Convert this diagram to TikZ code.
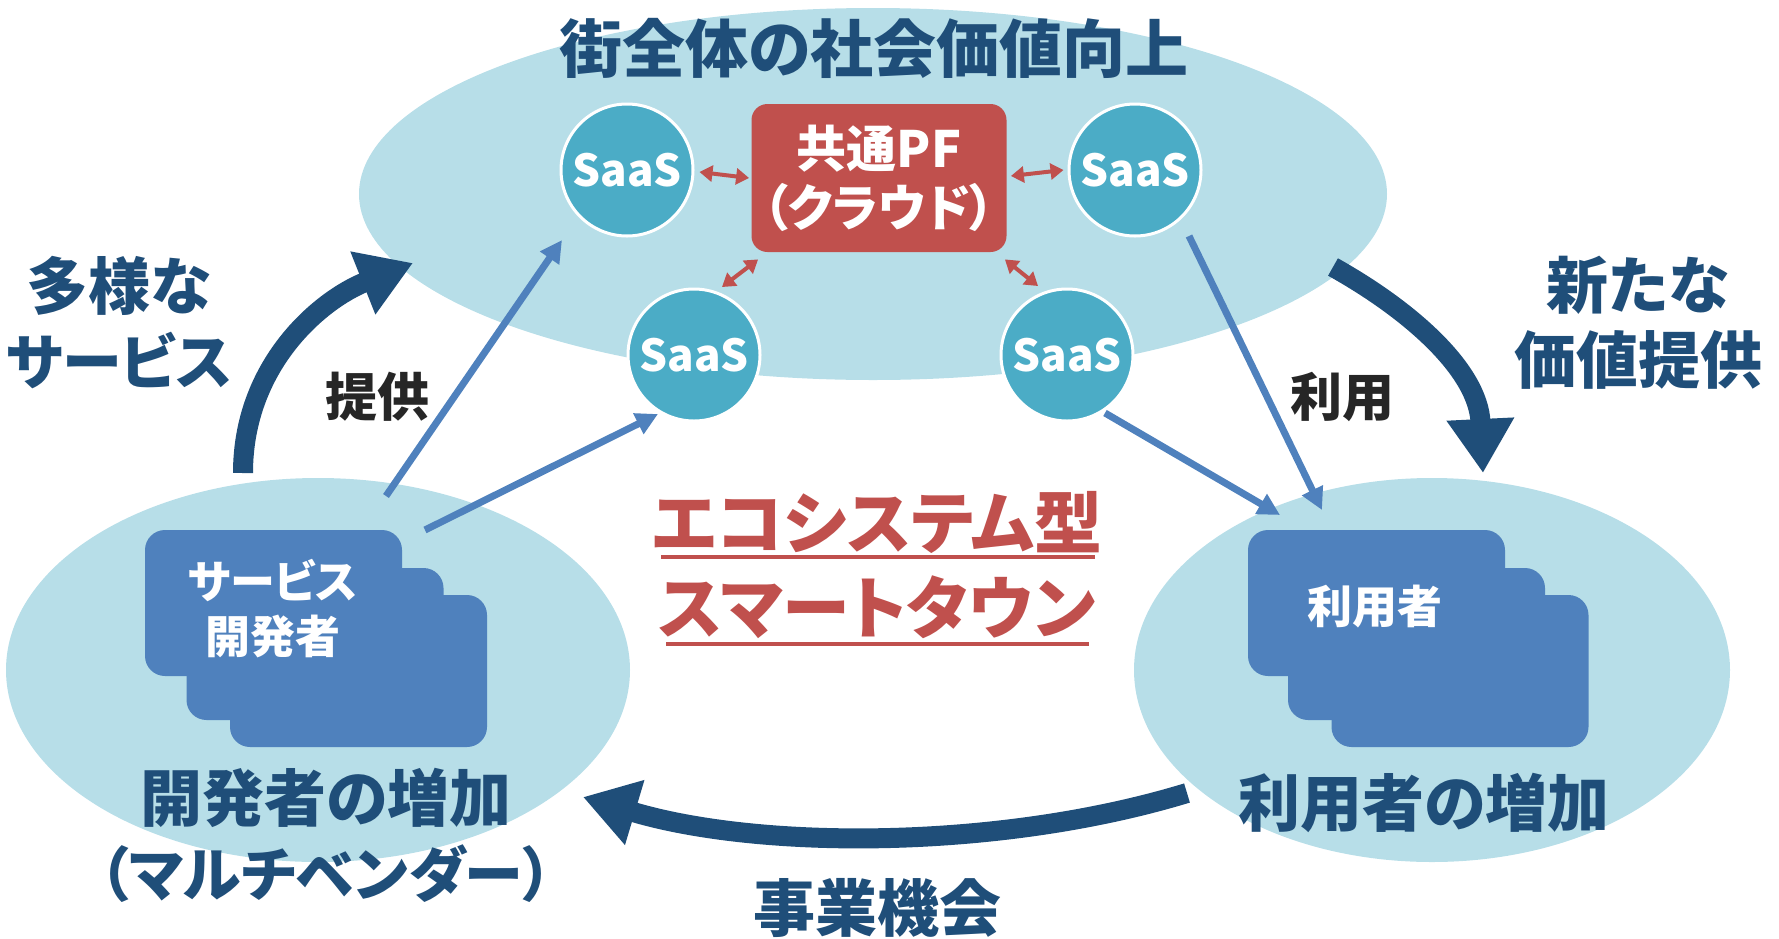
\documentclass[tikz,border=0pt]{standalone}
\usepackage{fontspec}
\setmainfont{Noto Sans CJK JP}[RawFeature=+palt]
\usetikzlibrary{arrows.meta,calc}
\definecolor{lblue}{HTML}{B7DEE8}
\definecolor{aqua}{HTML}{4BACC6}
\definecolor{pfred}{HTML}{C0504D}
\definecolor{cardblue}{HTML}{4F81BD}
\definecolor{navy}{HTML}{1F4E79}
\definecolor{dgray}{HTML}{262626}
\newcommand{\fs}[1]{\fontsize{#1}{#1}\selectfont}
\begin{document}
\begin{tikzpicture}[x=0.5pt,y=-0.5pt,
  saas/.style={circle, fill=aqua, draw=white, line width=1.5pt, minimum size=66pt, inner sep=0pt,
    text=white, font=\bfseries\fs{22}},
  pfbox/.style={rectangle, rounded corners=8pt, fill=pfred, minimum width=127.5pt, minimum height=74pt,
    text=white, align=center, font=\bfseries\fontsize{25}{29.5}\selectfont},
  cardbox/.style={rectangle, rounded corners=10pt, fill=cardblue, minimum width=128.5pt, inner sep=0pt},
  cardtext/.style={text=white, align=center, font=\bfseries\fontsize{22.5}{27.5}\selectfont},
  biglabel/.style={text=navy, align=center, font=\bfseries\fontsize{31}{37.5}\selectfont},
  smalllabel/.style={text=dgray, font=\bfseries\fs{26}},
  ecolabel/.style={text=pfred, align=center, font=\bfseries\fs{34}},
  bigarrow/.style={draw=navy, line width=10pt, -{Triangle[width=32pt,length=27pt]}},
  bluearrow/.style={draw=cardblue, line width=3.5pt, -{Triangle[width=11pt,length=11pt]}},
  redarrow/.style={draw=pfred, line width=2pt, {Triangle[width=8pt,length=6.5pt]}-{Triangle[width=8pt,length=6.5pt]}}
]
\path[use as bounding box] (0,0) rectangle (1779,938);
% background ellipses
\fill[lblue] (873,194) ellipse [x radius=514, y radius=186];
\fill[lblue] (318,670) ellipse [x radius=312, y radius=192];
\fill[lblue] (1432,670) ellipse [x radius=298, y radius=192];

% title
\node[biglabel, font=\bfseries\fs{31.5}] (title) at (874,48) {街全体の社会価値向上};

% SaaS and platform
\node[pfbox] (pf) at (879,178) {共通PF\\（クラウド）};
\node[saas] (sTL) at (627,170) {SaaS};
\node[saas] (sTR) at (1135,170) {SaaS};
\node[saas] (sBL) at (694,355) {SaaS};
\node[saas] (sBR) at (1067,355) {SaaS};

\draw[redarrow] ($(sTL.east)+(5,2)$) -- ($(pf.west)+(-2,0)$);
\draw[redarrow] ($(pf.east)+(4,-2)$) -- ($(sTR.west)+(-4,0)$);
\draw[redarrow] ($(pf.south west)+(7,7)$) -- ($(sBL)+(28,-68)$);
\draw[redarrow] ($(pf.south east)+(-2,7)$) -- ($(sBR)+(-29,-69)$);

% cards left
\node[cardbox, minimum height=76pt] (cL3) at (358.5,671) {};
\node[cardbox, minimum height=76pt] (cL2) at (315,644) {};
\node[cardbox, minimum height=73pt] (cL1) at (273.5,603) {};
\node[cardtext] (tL) at (273,609) {サービス\\開発者};
% cards right
\node[cardbox, minimum height=76pt] (cR3) at (1460,671) {};
\node[cardbox, minimum height=76pt] (cR2) at (1416.5,644) {};
\node[cardbox, minimum height=73pt] (cR1) at (1376.5,603) {};
\node[cardtext] (tR) at (1375,607) {利用者};

% blue arrows
\coordinate (a1s) at (386,496); \coordinate (a1e) at (562,240);
\coordinate (a2s) at (425,530); \coordinate (a2e) at (658,414);
\coordinate (a3s) at (1189,236); \coordinate (a3e) at (1322,510);
\coordinate (a4s) at (1105,413); \coordinate (a4e) at (1280,515);
\draw[bluearrow] (a1s) -- (a1e);
\draw[bluearrow] (a2s) -- (a2e);
\draw[bluearrow] (a3s) -- (a3e);
\draw[bluearrow] (a4s) -- (a4e);

% big arrows
\coordinate (b1s) at (243,473); \coordinate (b1e) at (413,263);
\coordinate (b2s) at (1333,267); \coordinate (b2e) at (1483,473);
\coordinate (b3s) at (1187,793); \coordinate (b3e) at (583,797);
\draw[bigarrow] (b1s) .. controls (243,365) and (320,300) .. (b1e);
\draw[bigarrow] (b2s) .. controls (1410,310) and (1478,370) .. (b2e);
\draw[bigarrow] (b3s) .. controls (1000,850) and (760,850) .. (b3e);

% labels
\node[biglabel] (lL) at (119,323) {多様な\\{\fontsize{30}{37.5}\selectfont サービス}};
\node[biglabel] (lR) at (1638,323) {新たな\\価値提供};
\node[smalllabel] (lTeikyo) at (377,397) {提供};
\node[smalllabel] (lRiyo) at (1342,397) {利用};
\node[biglabel] (lDev) at (326,835) {開発者の増加\\{\fontsize{29.5}{37.5}\selectfont （マルチベンダー）}};
\node[biglabel] (lUser) at (1424,803) {利用者の増加};
\node[biglabel] (lBiz) at (877,908) {事業機会};

% eco title
\node[ecolabel] (eco1) at (877,522) {エコシステム型};
\node[ecolabel] (eco2) at (877,607) {スマートタウン};
\draw[pfred, line width=2pt] (661,557) -- (1095,557);
\draw[pfred, line width=2pt] (666,644) -- (1089,644);
\end{tikzpicture}
\end{document}
